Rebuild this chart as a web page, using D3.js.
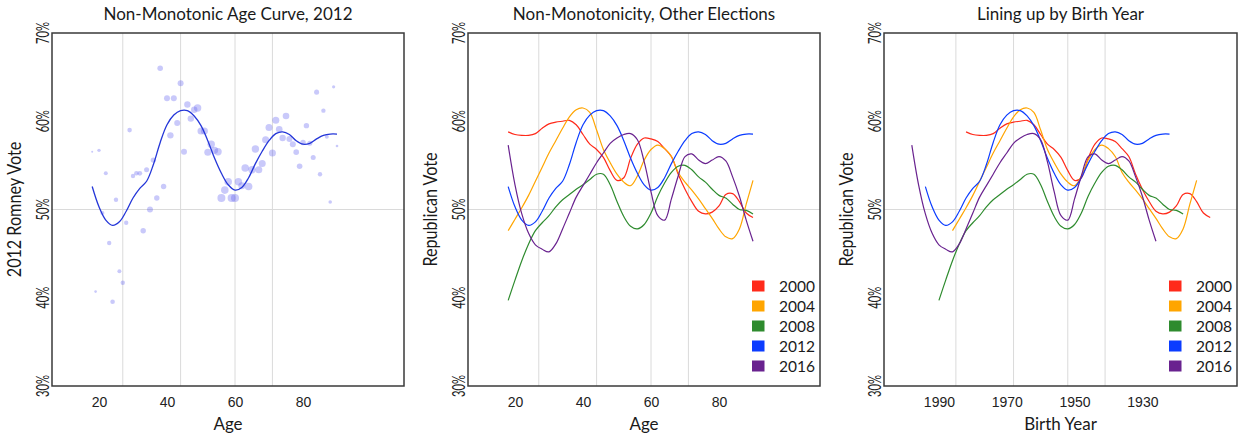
<!DOCTYPE html>
<meta charset="utf-8">
<style>
  body { margin: 0; background: #fff; font-family: Lato, "Open Sans", sans-serif; }
  .frame { fill: none; stroke: #3a3a3a; stroke-width: 1.5px; }
  .grid { stroke: #dadada; stroke-width: 1px; }
  .title { font-size: 17px; fill: #1a1a1a; }
  .axislabel { font-size: 17px; fill: #1a1a1a; }
  .ticklabel { font-size: 14px; fill: #222; }
  .legend text { font-size: 15.5px; fill: #1a1a1a; }
</style>
<body></body>
<script src="https://d3js.org/d3.v7.min.js"></script>
<script>
// elections and colours
var years = [2000, 2004, 2008, 2012, 2016];
var colors = ["#ff2a1a", "#ffa500", "#2e8b2e", "#0b3cff", "#69228f"];

// smoothed curves, read at these ages
var ages = [18, 20, 22, 24, 26, 28, 30, 32, 34, 36, 38, 40, 42, 44, 46, 48, 50, 52, 54,
  56, 58, 60, 62, 64, 66, 68, 70, 72, 74, 76, 78, 80, 82, 84, 86, 88, 90];
var vote2000 = [58.8, 58.5, 58.4, 58.4, 58.6, 59.2, 59.7, 59.9, 60.0, 60.1, 59.6, 58.5, 57.4,
  56.8, 55.9, 54.4, 53.3, 53.6, 55.8, 57.4, 58.1, 58.0, 57.7, 56.9, 56.0, 54.0, 52.3, 50.9,
  49.8, 49.5, 49.7, 50.4, 51.7, 51.8, 50.9, 49.6, 49.1];
var vote2004 = [47.6, 48.9, 50.2, 51.6, 53.2, 54.8, 56.4, 57.8, 59.2, 60.5, 61.3, 61.5, 61.0,
  59.0, 56.8, 55.3, 54.0, 53.1, 52.7, 53.8, 55.6, 56.8, 57.3, 56.9, 56.0, 54.2, 53.1, 52.2,
  51.2, 50.1, 49.0, 47.8, 46.9, 46.7, 47.8, 50.6, 53.3];
var vote2008 = [39.7, 42.0, 44.2, 46.1, 47.6, 48.5, 49.3, 50.3, 51.1, 51.7, 52.3, 52.8, 53.4,
  54.0, 54.0, 52.8, 50.9, 49.2, 48.1, 47.8, 48.3, 49.6, 51.5, 53.0, 54.2, 54.9, 55.0, 54.5,
  53.7, 53.1, 52.3, 51.6, 51.3, 50.6, 50.0, 49.9, 49.5];
var vote2012 = [52.6, 50.3, 48.8, 48.2, 48.6, 49.8, 51.3, 52.4, 53.2, 55.1, 57.6, 59.6, 60.7,
  61.2, 61.2, 60.6, 59.5, 57.8, 55.8, 54.1, 52.8, 52.2, 52.5, 53.6, 55.2, 56.6, 57.8, 58.6,
  58.8, 58.5, 57.8, 57.4, 57.5, 58.0, 58.4, 58.55, 58.55];
var vote2016 = [57.3, 52.8, 49.5, 47.3, 46.0, 45.5, 45.2, 46.1, 47.8, 49.6, 51.4, 52.7, 54.0,
  55.3, 56.4, 57.5, 58.1, 58.5, 58.6, 57.9, 55.4, 52.0, 49.3, 48.8, 51.2, 53.8, 56.0, 56.3,
  55.6, 55.2, 55.6, 56.0, 55.5, 53.7, 51.5, 48.8, 46.4];
var votes = [vote2000, vote2004, vote2008, vote2012, vote2016];

// 2012 raw points: age, Romney share, relative sample weight
var pointAges = [18, 19, 20, 21, 22, 23, 24, 25, 26, 27, 28, 29, 30, 31, 32, 33, 34, 35, 36,
  37, 38, 39, 40, 41, 42, 43, 44, 45, 46, 47, 48, 49, 50, 51, 52, 53, 54, 55, 56, 57, 58,
  59, 60, 61, 62, 63, 64, 65, 66, 67, 68, 69, 70, 71, 72, 73, 74, 75, 76, 77, 78, 79, 80,
  81, 82, 83, 84, 85, 86, 87, 88, 89, 90];
var pointVotes = [56.55, 40.7, 56.7, 49.6, 54.1, 46.2, 39.55, 51.1, 43.0, 41.7, 48.5, 59.0,
  53.8, 54.1, 54.1, 47.6, 54.5, 50.0, 55.6, 51.3, 66.0, 52.6, 62.6, 58.4, 62.6, 59.8, 64.3,
  56.55, 61.9, 60.3, 61.3, 61.5, 58.9, 58.9, 56.5, 57.4, 56.7, 56.55, 51.3, 52.2, 53.15,
  51.3, 51.3, 53.15, 52.7, 54.7, 52.6, 54.5, 56.85, 54.5, 55.2, 57.9, 59.3, 56.4, 60.1,
  59.1, 58.1, 60.6, 58.0, 57.4, 56.5, 54.9, 57.6, 59.5, 57.5, 55.9, 63.3, 54.0, 61.2,
  58.25, 50.85, 63.9, 57.2];
var pointWeights = [1, 1.7, 2.9, 4, 4, 4.8, 5.3, 4.8, 4, 4.8, 4.8, 5.3, 4.8, 5.3, 5.8, 7.3,
  6.3, 9, 7.3, 7.3, 7.8, 7.3, 9, 10.2, 9, 9, 9, 9, 10.2, 10.2, 10.2, 13.7, 12.3, 12.3,
  12.3, 13.7, 12.3, 13.7, 16, 14.4, 14.4, 16, 16, 13.7, 12.3, 14.4, 14.4, 13.7, 13.7,
  12.3, 12.3, 12.3, 12.3, 12.3, 12.3, 10.9, 10.2, 10.9, 9, 9, 7.8, 7.8, 7.3, 7.3, 6.3,
  6.3, 6.3, 4.8, 4.8, 4, 3.2, 2.6, 1.7];

// generation boundaries (birth year), drawn as vertical grid lines
var cohortBreaks = [1985, 1968, 1952, 1941];
var yTicks = [30, 40, 50, 60, 70];

var svg = d3.select("body").append("svg")
  .attr("width", 1238)
  .attr("height", 438);

var top0 = 33, bottom0 = 386;
var y = d3.scaleLinear().domain([30, 70]).range([bottom0, top0]);

var panels = [
  { x0: 52, x1: 404, title: "Non-Monotonic Age Curve, 2012", ylab: "2012 Romney Vote", xlab: "Age", mode: "scatter" },
  { x0: 468, x1: 820, title: "Non-Monotonicity, Other Elections", ylab: "Republican Vote", xlab: "Age", mode: "age" },
  { x0: 884, x1: 1237, title: "Lining up by Birth Year", ylab: "Republican Vote", xlab: "Birth Year", mode: "birth" }
];

panels.forEach(function(p) {
  var x, ticks, toX;
  if (p.mode == "birth") {
    x = d3.scaleLinear().domain([2006.2, 1902.1]).range([p.x0, p.x1]);
    ticks = [1990, 1970, 1950, 1930];
    toX = function(age, yr) { return x(yr - age); };
  } else {
    x = d3.scaleLinear().domain([6.18, 109.7]).range([p.x0, p.x1]);
    ticks = [20, 40, 60, 80];
    toX = function(age) { return x(age); };
  }
  var g = svg.append("g");
  var cx = (p.x0 + p.x1) / 2;

  // grid
  cohortBreaks.forEach(function(b) {
    var gx = p.mode == "birth" ? x(b) : x(2012 - b);
    g.append("line").attr("class", "grid")
      .attr("x1", gx).attr("x2", gx).attr("y1", top0).attr("y2", bottom0);
  });
  g.append("line").attr("class", "grid")
    .attr("x1", p.x0).attr("x2", p.x1).attr("y1", y(50)).attr("y2", y(50));

  // data
  if (p.mode == "scatter") {
    var r = d3.scaleSqrt().domain([0, 16]).range([0, 4]);
    g.selectAll("circle")
      .data(pointAges)
      .enter().append("circle")
      .attr("cx", function(d) { return x(d); })
      .attr("cy", function(d, i) { return y(pointVotes[i]); })
      .attr("r", function(d, i) { return r(pointWeights[i]); })
      .style("fill", "#5a5af0")
      .style("fill-opacity", 0.33);
    g.append("path")
      .datum(ages)
      .attr("fill", "none")
      .attr("stroke", "#2436d8")
      .attr("stroke-width", 1.3)
      .attr("d", d3.line()
        .x(function(d) { return x(d); })
        .y(function(d, i) { return y(vote2012[i]); })
        .curve(d3.curveCatmullRom));
  } else {
    years.forEach(function(yr, k) {
      g.append("path")
        .datum(ages)
        .attr("fill", "none")
        .attr("stroke", colors[k])
        .attr("stroke-width", 1.2)
        .attr("d", d3.line()
          .x(function(d) { return toX(d, yr); })
          .y(function(d, i) { return y(votes[k][i]); })
          .curve(d3.curveCatmullRom));
    });

    var leg = g.append("g").attr("class", "legend");
    years.forEach(function(yr, k) {
      var ly = 286 + k * 20;
      leg.append("rect")
        .attr("x", p.x1 - 68).attr("y", ly - 5.5)
        .attr("width", 12.5).attr("height", 11)
        .style("fill", colors[k]);
      leg.append("text")
        .attr("x", p.x1 - 41).attr("y", ly)
        .attr("dy", "0.36em")
        .text(yr);
    });
  }

  // frame
  g.append("rect").attr("class", "frame")
    .attr("x", p.x0).attr("y", top0)
    .attr("width", p.x1 - p.x0).attr("height", bottom0 - top0);

  // x axis
  var xAxis = d3.axisBottom(x).tickValues(ticks).tickSize(0).tickPadding(11)
    .tickFormat(d3.format("d"));
  var ax = g.append("g")
    .attr("transform", "translate(0," + bottom0 + ")")
    .call(xAxis);
  ax.select(".domain").remove();
  ax.selectAll("text").attr("class", "ticklabel").attr("font-family", null).attr("font-size", null);

  // y ticks, rotated
  yTicks.forEach(function(t) {
    g.append("text").attr("class", "ticklabel")
      .attr("text-anchor", "middle")
      .attr("transform", "translate(" + (p.x0 - 3) + "," + y(t) + ") rotate(-90) scale(0.8,1.25)")
      .text(t + "%");
  });

  // labels
  g.append("text").attr("class", "title")
    .attr("x", cx).attr("y", 20)
    .attr("text-anchor", "middle")
    .text(p.title);
  g.append("text").attr("class", "axislabel")
    .attr("x", cx).attr("y", 430)
    .attr("text-anchor", "middle")
    .text(p.xlab);
  g.append("text").attr("class", "axislabel")
    .attr("text-anchor", "middle")
    .attr("transform", "translate(" + (p.x0 - 31) + "," + 209.5 + ") rotate(-90) scale(0.95,1.1)")
    .text(p.ylab);
});
</script>
